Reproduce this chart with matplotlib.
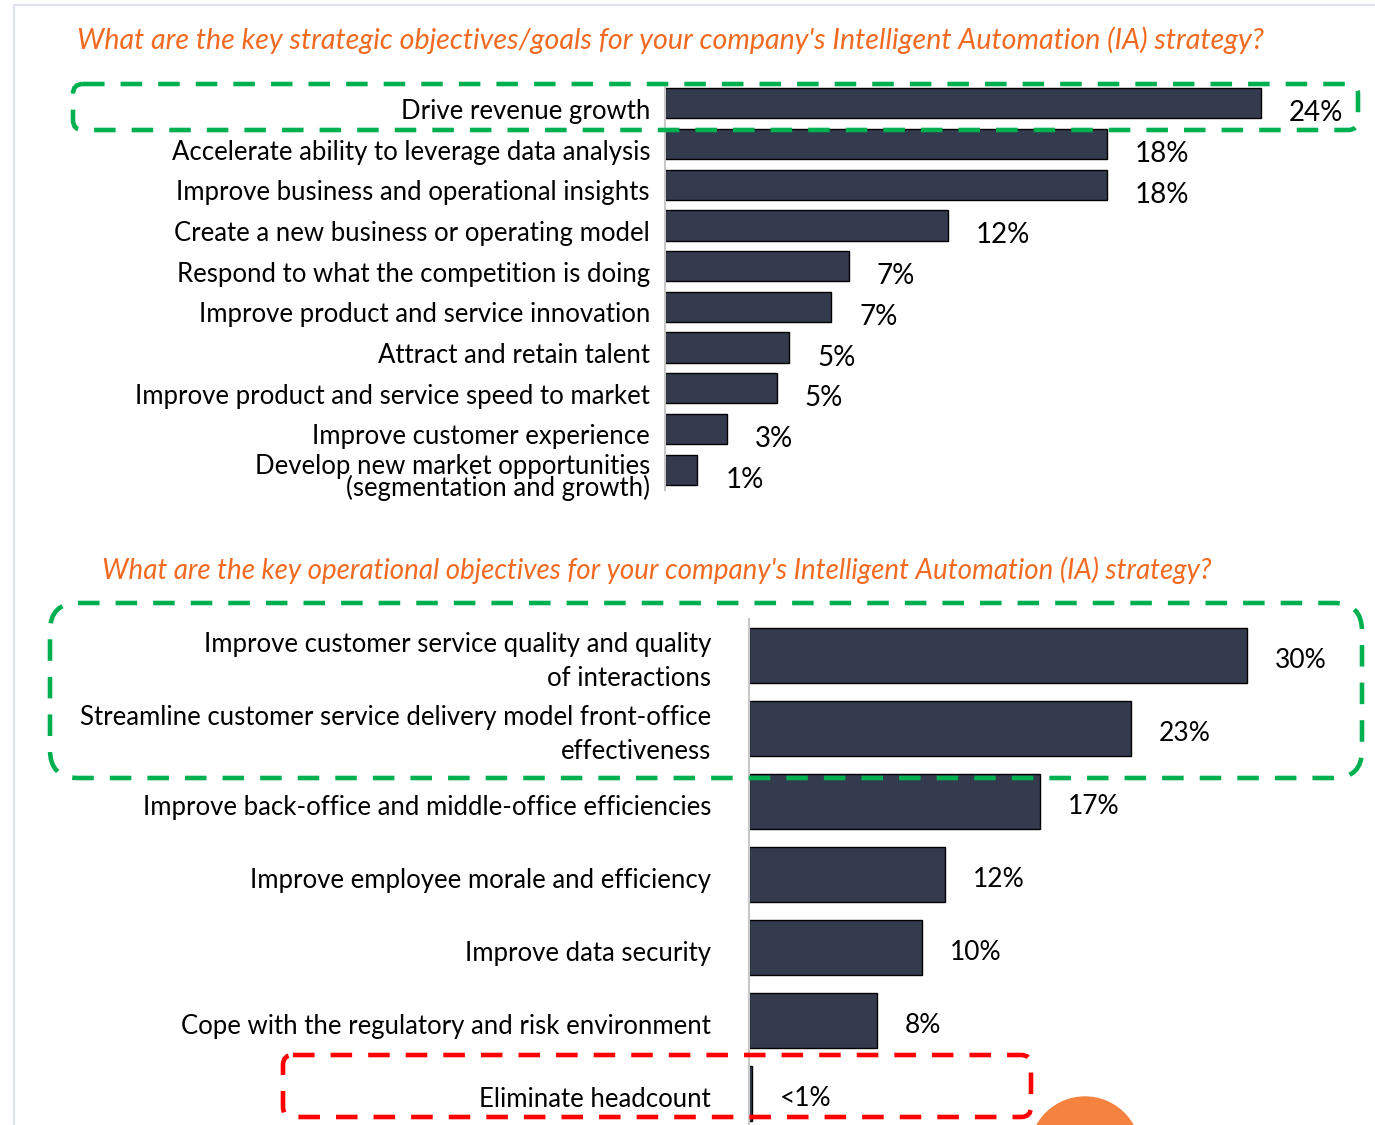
import matplotlib
matplotlib.use("Agg")
import matplotlib.pyplot as plt
from matplotlib.patches import FancyBboxPatch, Circle
from matplotlib.lines import Line2D
from matplotlib.transforms import Affine2D

plt.rcParams['font.family'] = ['Lato', 'DejaVu Sans']

# --- data -------------------------------------------------------------
top_title = ("What are the key strategic objectives/goals for your company's "
             "Intelligent Automation (IA) strategy?")
top_categories = [
    "Drive revenue growth",
    "Accelerate ability to leverage data analysis",
    "Improve business and operational insights",
    "Create a new business or operating model",
    "Respond to what the competition is doing",
    "Improve product and service innovation",
    "Attract and retain talent",
    "Improve product and service speed to market",
    "Improve customer experience",
    "Develop new market opportunities\n(segmentation and growth)",
]
top_values = [24.0, 17.8, 17.8, 11.4, 7.4, 6.7, 5.0, 4.5, 2.5, 1.3]
top_labels = ["24%", "18%", "18%", "12%", "7%", "7%", "5%", "5%", "3%", "1%"]

bottom_title = ("What are the key operational objectives for your company's "
                "Intelligent Automation (IA) strategy?")
bottom_categories = [
    "Improve customer service quality and quality\nof interactions",
    "Streamline customer service delivery model front-office\neffectiveness",
    "Improve back-office and middle-office efficiencies",
    "Improve employee morale and efficiency",
    "Improve data security",
    "Cope with the regulatory and risk environment",
    "Eliminate headcount",
]
bottom_values = [30.0, 23.0, 17.5, 11.8, 10.4, 7.7, 0.2]
bottom_labels = ["30%", "23%", "17%", "12%", "10%", "8%", "<1%"]

BAR = '#343b4e'
ORANGE = '#f26a21'
GREEN = '#00b050'
RED = '#ff0000'

W, H = 1375, 1125
fig = plt.figure(figsize=(W / 100, H / 100), dpi=100)
# pixel coordinates measured from the top-left corner
px = Affine2D().scale(1, -1).translate(0, H).scale(1 / W, 1 / H) + fig.transFigure


def add_axes_px(left, top, width, height):
    return fig.add_axes([left / W, (H - top - height) / H, width / W, height / H])


def draw_bars(ax, cats, vals, labels, bar_h, xmax, cat_pad, cat_size, val_size,
              dy, val_dy, ls=1.3, last_ls=1.3):
    n = len(cats)
    ax.barh(range(n), vals, height=bar_h, color=BAR, edgecolor='black', linewidth=1.0)
    ax.set_xlim(0, xmax)
    ax.set_ylim(n - 0.5, -0.5)
    for s in ['top', 'right', 'bottom']:
        ax.spines[s].set_visible(False)
    ax.spines['left'].set_color('#c8c8c8')
    ax.spines['left'].set_linewidth(1.5)
    ax.set_xticks([])
    ax.set_yticks([])
    ax.patch.set_alpha(0)
    for i, (c, v, lab) in enumerate(zip(cats, vals, labels)):
        ax.annotate(c, xy=(0, i), xycoords=('axes fraction', 'data'),
                    xytext=(-cat_pad, -dy), textcoords='offset pixels',
                    ha='right', va='center', fontsize=cat_size,
                    linespacing=last_ls if i == n - 1 else ls)
        ax.annotate(lab, xy=(v, i), xytext=(28, -val_dy), textcoords='offset pixels',
                    ha='left', va='center', fontsize=val_size)


# top chart: 24.83 px per percent
ax_top = add_axes_px(665, 83, 710, 407)
draw_bars(ax_top, top_categories, top_values, top_labels, 0.74, 710 / 24.83,
          15, 18.5, 20, 8, 10, last_ls=0.82)

# bottom chart: 16.6 px per percent
ax_bot = add_axes_px(749, 619, 626, 511)
draw_bars(ax_bot, bottom_categories, bottom_values, bottom_labels, 0.75, 626 / 16.6,
          38, 18.5, 19, 6, 5, ls=1.42)

# titles
fig.text(670, 40, top_title, transform=px, ha='center', va='center',
         color=ORANGE, style='italic', fontsize=20.6)
fig.text(657, 570, bottom_title, transform=px, ha='center', va='center',
         color=ORANGE, style='italic', fontsize=20.0)

# frame lines at the left and top edges
fig.add_artist(Line2D([14, 14], [5, H], transform=px, color='#dde2ea', lw=1.5))
fig.add_artist(Line2D([14, W], [5, 5], transform=px, color='#dde2ea', lw=1.5))

# highlight boxes
dash = (0, (4.7, 3.5))


def box(x0, y0, x1, y1, color, r):
    p = FancyBboxPatch((x0, y0), x1 - x0, y1 - y0,
                       boxstyle=f"round,pad=0,rounding_size={r}",
                       transform=px, fill=False, edgecolor=color,
                       linewidth=3.3, linestyle=dash, zorder=10)
    fig.add_artist(p)


box(73, 84, 1358, 130, GREEN, 10)
box(50, 603, 1362, 778, GREEN, 28)
box(283, 1055, 1031, 1117, RED, 10)

fig.add_artist(Circle((1085, 1152), 55, transform=px, color='#f5823e', zorder=5))

fig.savefig('out.png', dpi=100)
